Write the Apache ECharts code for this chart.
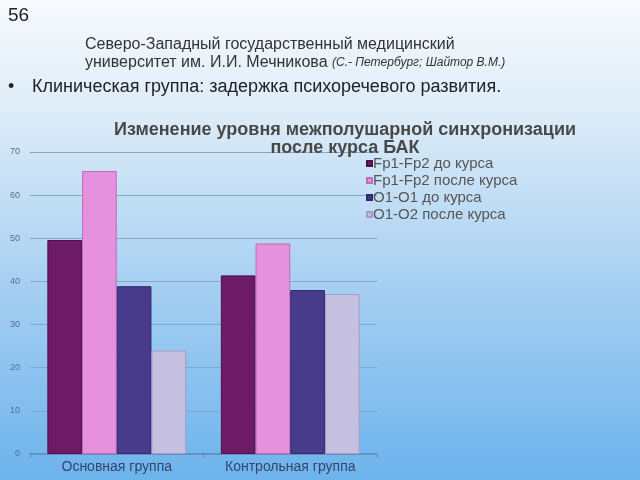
<!DOCTYPE html>
<html><head><meta charset="utf-8">
<script src="https://cdn.jsdelivr.net/npm/echarts@6/dist/echarts.min.js"></script>
<style>html,body{margin:0;padding:0;}#c{width:640px;height:480px;}</style>
</head><body><div id="c"></div>
<script>
const categories = ['Основная группа', 'Контрольная группа'];
const seriesNames = ['Fp1-Fp2 до курса', 'Fp1-Fp2 после курса', 'O1-O1 до курса', 'O1-O2 после курса'];
const fp1Before = [49.6, 41.4];
const fp1After = [65.6, 48.8];
const o1Before = [38.9, 38.0];
const o1o2After = [24.0, 37.1];
const yTicks = [0, 10, 20, 30, 40, 50, 60, 70];

const values = [fp1Before, fp1After, o1Before, o1o2After];
const colors = ['#6d1b66', '#e591de', '#483b8c', '#c6c0e0'];
const borders = ['#4e1048', '#c06cb8', '#332870', '#a49ec4'];

const chart = echarts.init(document.getElementById('c'));
chart.setOption({
  backgroundColor: {
    type: 'linear', x: 0, y: 0, x2: 0, y2: 1,
    colorStops: [
      {offset: 0, color: '#f7fafd'},
      {offset: 0.25, color: '#dbebf8'},
      {offset: 0.6, color: '#a5cff2'},
      {offset: 1, color: '#6cb3ec'}
    ]
  },
  animation: false,
  title: {
    text: 'Изменение уровня межполушарной синхронизации\nпосле курса БАК',
    left: 340, top: 116, textAlign: 'center',
    textStyle: {fontFamily: 'Liberation Sans', fontSize: 18, fontWeight: 'bold', color: '#484848', lineHeight: 18}
  },
  legend: {
    orient: 'vertical', left: 361, top: 151, itemWidth: 5, itemHeight: 5, itemGap: 2,
    icon: 'rect',
    data: seriesNames,
    textStyle: {fontFamily: 'Liberation Sans', fontSize: 15, color: '#555555', padding: [0,0,0,-4]}
  },
  grid: {left: 30, right: 263, top: 152, bottom: 26},
  xAxis: {
    type: 'category', data: categories,
    axisLine: {lineStyle: {color: '#5b88b4', width: 1.5}},
    axisTick: {show: true, length: 4, lineStyle: {color: '#5b88b4'}},
    axisLabel: {fontFamily: 'Liberation Sans', fontSize: 14, color: '#34456a', margin: 6}
  },
  yAxis: {
    type: 'value', min: yTicks[0], max: yTicks[yTicks.length-1], interval: 10,
    axisLine: {show: false}, axisTick: {show: false},
    axisLabel: {fontFamily: 'Liberation Sans', fontSize: 9, color: '#5d6d85', margin: 10},
    splitLine: {lineStyle: {color: '#86a6c6', width: 1}}
  },
  series: seriesNames.map((n, i) => ({
    name: n, type: 'bar', data: values[i],
    barGap: '0%', barCategoryGap: '20%',
    itemStyle: {color: colors[i], borderColor: borders[i], borderWidth: 1}
  })),
  graphic: [
    {type: 'text', left: 8, top: 6, style: {text: '56', font: '19px "Liberation Sans"', fill: '#222'}},
    {type: 'text', left: 85, top: 37, style: {text: 'Северо-Западный государственный медицинский', font: '16px "Liberation Sans"', fill: '#333'}},
    {type: 'text', left: 85, top: 55, style: {
      rich: {a: {font: '16px "Liberation Sans"', fill: '#333'}, b: {font: 'italic 12px "Liberation Sans"', fill: '#333'}},
      text: '{a|университет им. И.И. Мечникова }{b|(С.- Петербург; Шайтор В.М.)}'
    }},
    {type: 'text', left: 8, top: 78, style: {text: '•', font: '18px "Liberation Sans"', fill: '#222'}},
    {type: 'text', left: 32, top: 78, style: {text: 'Клиническая группа: задержка психоречевого развития.', font: '18px "Liberation Sans"', fill: '#222'}}
  ]
});
</script></body></html>
